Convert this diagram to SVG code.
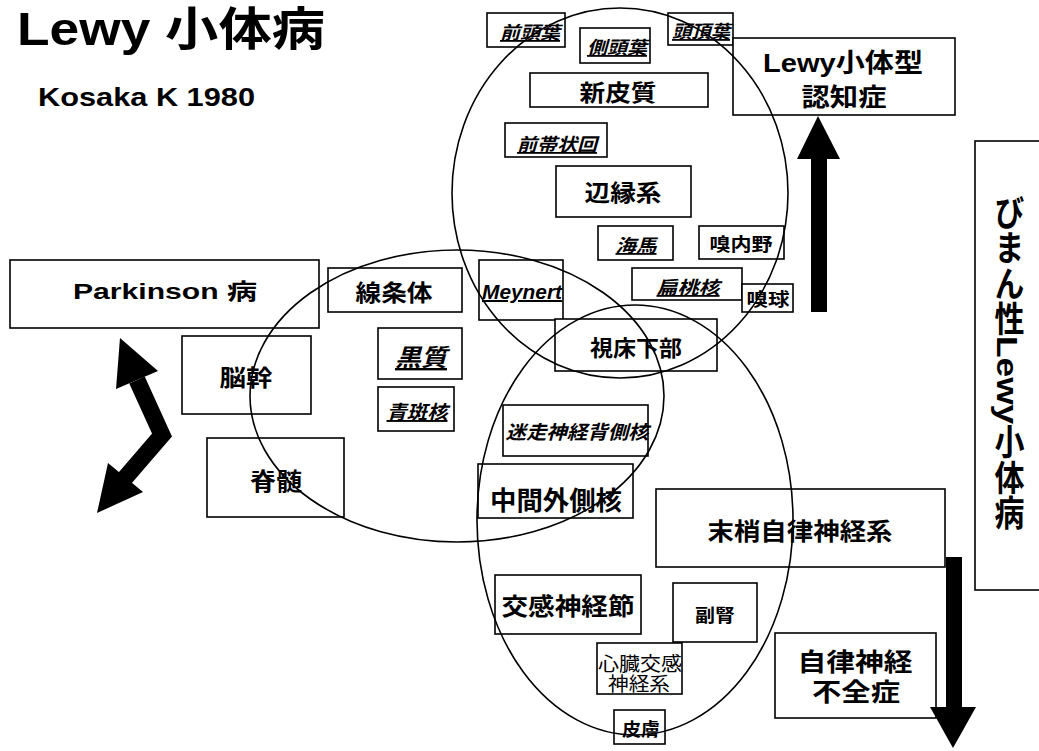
<svg xmlns="http://www.w3.org/2000/svg" width="1039" height="751" viewBox="0 0 1039 751">
<style>
.box{fill:#fff;stroke:#000;stroke-width:1.6}
.t{font-family:"Liberation Sans","Noto Sans CJK JP",sans-serif;font-weight:bold;text-anchor:middle;fill:#000}
.n{font-weight:normal}
.i{font-style:italic;text-decoration:underline}
.ell{fill:none;stroke:#000;stroke-width:1.6}
.arr{fill:#000;stroke:none}
</style>
<rect width="1039" height="751" fill="#fff"/>
<g id="title">
<text class="t" x="17" y="45" font-size="46" style="text-anchor:start" textLength="308" lengthAdjust="spacingAndGlyphs">Lewy 小体病</text>
<text class="t" x="38" y="106" font-size="25" style="text-anchor:start" textLength="217" lengthAdjust="spacingAndGlyphs">Kosaka K 1980</text>
</g>
<g id="n-zentoyo"><rect class="box" x="487" y="13" width="78" height="34"/><text class="t i" x="530" y="39" font-size="18" textLength="60" lengthAdjust="spacingAndGlyphs">前頭葉</text></g>
<g id="n-sokutoyo"><rect class="box" x="580" y="28" width="70" height="35"/><text class="t i" x="617" y="54" font-size="18" textLength="60" lengthAdjust="spacingAndGlyphs">側頭葉</text></g>
<g id="n-tochoyo"><rect class="box" x="668" y="13" width="65" height="32"/><text class="t i" x="701" y="38" font-size="18" textLength="58" lengthAdjust="spacingAndGlyphs">頭頂葉</text></g>
<g id="n-shinhishitsu"><rect class="box" x="530" y="73" width="178" height="34"/><text class="t" x="618" y="101" font-size="23" textLength="77" lengthAdjust="spacingAndGlyphs">新皮質</text></g>
<g id="n-dlb"><rect class="box" x="733" y="38" width="222" height="77"/><text class="t" x="843" y="72" font-size="26" textLength="160" lengthAdjust="spacingAndGlyphs">Lewy小体型</text><text class="t" x="844" y="106" font-size="25" textLength="85" lengthAdjust="spacingAndGlyphs">認知症</text></g>
<g id="n-zentaijokai"><rect class="box" x="505" y="123" width="102" height="34"/><text class="t i" x="557" y="151" font-size="18" textLength="80" lengthAdjust="spacingAndGlyphs">前帯状回</text></g>
<g id="n-henenkei"><rect class="box" x="556" y="166" width="135" height="51"/><text class="t" x="623" y="201" font-size="23" textLength="77" lengthAdjust="spacingAndGlyphs">辺縁系</text></g>
<g id="n-kaiba"><rect class="box" x="598" y="226" width="75" height="34"/><text class="t i" x="636" y="252" font-size="18" textLength="41" lengthAdjust="spacingAndGlyphs">海馬</text></g>
<g id="n-kyunaiya"><rect class="box" x="699" y="226" width="85" height="33"/><text class="t" x="741" y="251" font-size="18" textLength="63" lengthAdjust="spacingAndGlyphs">嗅内野</text></g>
<g id="n-hentokaku"><rect class="box" x="632" y="268" width="110" height="32"/><text class="t i" x="688" y="294" font-size="18" textLength="63" lengthAdjust="spacingAndGlyphs">扁桃核</text></g>
<g id="n-kyukyu"><rect class="box" x="742" y="284" width="51" height="28"/><text class="t" x="768" y="306" font-size="18" textLength="43" lengthAdjust="spacingAndGlyphs">嗅球</text></g>
<g id="n-parkinson"><rect class="box" x="10" y="260" width="309" height="68"/><text class="t" x="165" y="299" font-size="22" textLength="184" lengthAdjust="spacingAndGlyphs">Parkinson 病</text></g>
<g id="n-senjotai"><rect class="box" x="328" y="268" width="134" height="44"/><text class="t" x="394" y="301" font-size="23" textLength="77" lengthAdjust="spacingAndGlyphs">線条体</text></g>
<g id="n-meynert"><rect class="box" x="479" y="260" width="84" height="60"/><text class="t i" x="522" y="299" font-size="20" textLength="80" lengthAdjust="spacingAndGlyphs">Meynert</text></g>
<g id="n-kokushitsu"><rect class="box" x="378" y="328" width="84" height="51"/><text class="t i" x="421" y="366" font-size="24" textLength="52" lengthAdjust="spacingAndGlyphs">黒質</text></g>
<g id="n-seihankaku"><rect class="box" x="378" y="387" width="76" height="44"/><text class="t i" x="417" y="419" font-size="19" textLength="61" lengthAdjust="spacingAndGlyphs">青斑核</text></g>
<g id="n-noukan"><rect class="box" x="182" y="336" width="129" height="78"/><text class="t" x="246" y="386" font-size="23" textLength="53" lengthAdjust="spacingAndGlyphs">脳幹</text></g>
<g id="n-sekizui"><rect class="box" x="207" y="438" width="137" height="79"/><text class="t" x="276" y="490" font-size="24" textLength="52" lengthAdjust="spacingAndGlyphs">脊髄</text></g>
<g id="n-shishokabu"><rect class="box" x="555" y="319" width="162" height="52"/><text class="t" x="636" y="356" font-size="22" textLength="92" lengthAdjust="spacingAndGlyphs">視床下部</text></g>
<g id="n-meiso"><rect class="box" x="503" y="405" width="145" height="51"/><text class="t" style="font-style:italic" x="577" y="439" font-size="19" textLength="143" lengthAdjust="spacingAndGlyphs">迷走神経背側核</text></g>
<g id="n-chukan"><rect class="box" x="478" y="464" width="155" height="54"/><text class="t" x="556" y="510" font-size="26" textLength="132" lengthAdjust="spacingAndGlyphs">中間外側核</text></g>
<g id="n-masho"><rect class="box" x="656" y="489" width="289" height="78"/><text class="t" x="800" y="540" font-size="24" textLength="185" lengthAdjust="spacingAndGlyphs">末梢自律神経系</text></g>
<g id="n-fukujin"><rect class="box" x="673" y="583" width="84" height="59"/><text class="t" x="715" y="622" font-size="18" textLength="40" lengthAdjust="spacingAndGlyphs">副腎</text></g>
<g id="n-kokan"><rect class="box" x="495" y="575" width="146" height="59"/><text class="t" x="568" y="615" font-size="24" textLength="133" lengthAdjust="spacingAndGlyphs">交感神経節</text></g>
<g id="n-shinzo"><rect class="box" x="597" y="643" width="85" height="51"/><text class="t n" x="640" y="671" font-size="19" textLength="84" lengthAdjust="spacingAndGlyphs">心臓交感</text><text class="t n" x="639" y="691" font-size="19" textLength="62" lengthAdjust="spacingAndGlyphs">神経系</text></g>
<g id="n-hifu"><rect class="box" x="614" y="710" width="51" height="34"/><text class="t" x="641" y="736" font-size="18" textLength="38" lengthAdjust="spacingAndGlyphs">皮膚</text></g>
<g id="n-fuzen"><rect class="box" x="775" y="633" width="161" height="85"/><text class="t" x="855" y="671" font-size="25" textLength="115" lengthAdjust="spacingAndGlyphs">自律神経</text><text class="t" x="856" y="701" font-size="25" textLength="88" lengthAdjust="spacingAndGlyphs">不全症</text></g>
<g id="n-diffuse"><rect class="box" x="975" y="141" width="80" height="449"/><text class="t" x="1007" y="195" font-size="30" style="writing-mode:vertical-rl;text-anchor:start" textLength="335" lengthAdjust="spacingAndGlyphs">びまん性Lewy小体病</text></g>
<g id="regions">
<ellipse class="ell" cx="620" cy="193" rx="168" ry="185"/>
<ellipse class="ell" cx="457" cy="396" rx="207" ry="146"/>
<ellipse class="ell" cx="635" cy="520" rx="158" ry="215"/>
</g>
<g id="connectors">
<rect class="arr" x="811" y="158" width="16" height="154"/>
<polygon class="arr" points="818,116 797,159 840,159"/>
<rect class="arr" x="946" y="557" width="16" height="151"/>
<polygon class="arr" points="930,707 976,707 953,748"/>
<polyline points="137,380 162,435 125,478" fill="none" stroke="#000" stroke-width="17" stroke-linejoin="miter"/>
<polygon class="arr" points="120,338 158,371 116,389"/>
<polygon class="arr" points="97,513 143,492 108,463"/>
</g>
</svg>
